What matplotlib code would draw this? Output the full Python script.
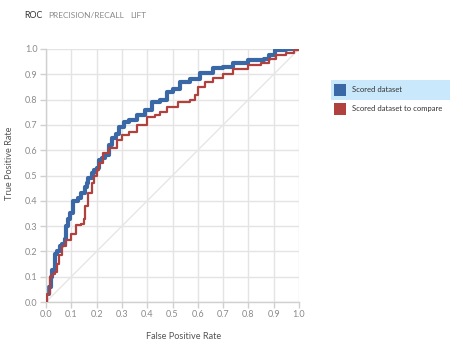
import matplotlib
matplotlib.use("Agg")
import matplotlib.pyplot as plt
from matplotlib.patches import Rectangle

plt.rcParams['font.family'] = ['Lato', 'DejaVu Sans']

# Data
blue_fpr = [0.0, 0.0, 0.01, 0.02, 0.025, 0.035, 0.045, 0.055, 0.065, 0.075, 0.08, 0.085, 0.095, 0.107,
            0.125, 0.14, 0.155, 0.162, 0.167, 0.18, 0.19, 0.2, 0.21, 0.22, 0.235, 0.25, 0.26, 0.275, 0.29,
            0.31, 0.33, 0.36, 0.39, 0.42, 0.45, 0.48, 0.5, 0.53, 0.57, 0.61, 0.66, 0.7, 0.74, 0.8, 0.86,
            0.88, 0.905, 0.95, 1.0]
blue_tpr = [0.0, 0.03, 0.06, 0.1, 0.125, 0.19, 0.2, 0.22, 0.23, 0.25, 0.3, 0.33, 0.35, 0.40,
            0.41, 0.43, 0.455, 0.47, 0.49, 0.51, 0.52, 0.53, 0.56, 0.57, 0.58, 0.62, 0.65, 0.665, 0.69,
            0.71, 0.72, 0.74, 0.76, 0.79, 0.80, 0.83, 0.84, 0.87, 0.88, 0.905, 0.925, 0.93, 0.945, 0.955, 0.96,
            0.975, 0.996, 1.0, 1.0]

red_fpr = [0.0, 0.005, 0.015, 0.025, 0.035, 0.045, 0.05, 0.063, 0.08, 0.1, 0.12, 0.14, 0.15, 0.155,
           0.167, 0.18, 0.19, 0.2, 0.21, 0.225, 0.25, 0.28, 0.3, 0.33, 0.36, 0.40, 0.43, 0.45, 0.48,
           0.52, 0.57, 0.59, 0.60, 0.63, 0.66, 0.7, 0.74, 0.8, 0.85, 0.88, 0.91, 0.95, 0.98, 1.0]
red_tpr = [0.0, 0.03, 0.10, 0.11, 0.12, 0.15, 0.185, 0.22, 0.245, 0.27, 0.305, 0.31, 0.33, 0.38,
           0.43, 0.47, 0.50, 0.52, 0.55, 0.59, 0.61, 0.64, 0.66, 0.67, 0.70, 0.73, 0.74, 0.75, 0.77,
           0.79, 0.80, 0.82, 0.85, 0.87, 0.885, 0.90, 0.92, 0.935, 0.945, 0.96, 0.975, 0.985, 0.996, 1.0]

ticks = [0.0, 0.1, 0.2, 0.3, 0.4, 0.5, 0.6, 0.7, 0.8, 0.9, 1.0]
tick_labels = ['0.0', '0.1', '0.2', '0.3', '0.4', '0.5', '0.6', '0.7', '0.8', '0.9', '1.0']
series_names = ['Scored dataset', 'Scored dataset to compare']
tabs = ['ROC', 'PRECISION/RECALL', 'LIFT']
blue = '#3a68a6'
red = '#b0413e'

W, H = 463, 350
fig = plt.figure(figsize=(W / 100, H / 100), dpi=100)
ax = fig.add_axes([46 / W, 1 - 302 / H, 253 / W, 253 / H])

grid_c = '#e4e4e4'
ax.set_xlim(0, 1)
ax.set_ylim(0, 1)
ax.set_xticks(ticks)
ax.set_yticks(ticks)
ax.set_xticklabels(tick_labels)
ax.set_yticklabels(tick_labels)
ax.grid(True, color=grid_c, linewidth=1.0)
ax.set_axisbelow(True)
for s in ['top', 'right']:
    ax.spines[s].set_visible(False)
for s in ['left', 'bottom']:
    ax.spines[s].set_color('#d0d0d0')
    ax.spines[s].set_linewidth(1.0)
ax.tick_params(axis='both', colors='#d0d0d0', labelcolor='#8a8a8a', labelsize=6.5, length=4, width=1, pad=2)

ax.plot([0, 1], [0, 1], color='#e6e6e6', linewidth=1.0, zorder=1)
ax.plot(red_fpr, red_tpr, color=red, linewidth=1.6, drawstyle='steps-post', zorder=3)
ax.plot(blue_fpr, blue_tpr, color=blue, linewidth=3.0, drawstyle='steps-post', zorder=2)

ax.set_xlabel('False Positive Rate', fontsize=6.6, color='#555555')
ax.set_ylabel('True Positive Rate', fontsize=6.6, color='#555555')
ax.xaxis.set_label_coords((183.5 - 46) / 253, (302 - 332) / 253)
ax.yaxis.set_label_coords((14 - 46) / 253, (302 - 163) / 253)

# Tabs
fig.text(24 / W, 1 - 16 / H, tabs[0], fontsize=6.4, color='#333333', va='center', ha='left')
fig.text(48 / W, 1 - 16 / H, tabs[1], fontsize=6.0, color='#8a8a8a', va='center', ha='left')
fig.text(130 / W, 1 - 16 / H, tabs[2], fontsize=6.0, color='#8a8a8a', va='center', ha='left')

# Legend
fig.patches.append(Rectangle((331 / W, 1 - 100 / H), 119 / W, 20 / H, transform=fig.transFigure,
                             facecolor='#c9e8fb', edgecolor='none'))
fig.patches.append(Rectangle((334 / W, 1 - 96 / H), 12 / W, 12 / H, transform=fig.transFigure,
                             facecolor=blue, edgecolor='none'))
fig.patches.append(Rectangle((334 / W, 1 - 115 / H), 12 / W, 12 / H, transform=fig.transFigure,
                             facecolor=red, edgecolor='none'))
fig.text(352 / W, 1 - 90 / H, series_names[0], fontsize=5.5, color='#333333', va='center')
fig.text(352 / W, 1 - 109 / H, series_names[1], fontsize=5.5, color='#333333', va='center')

fig.savefig('out.png', dpi=100)
